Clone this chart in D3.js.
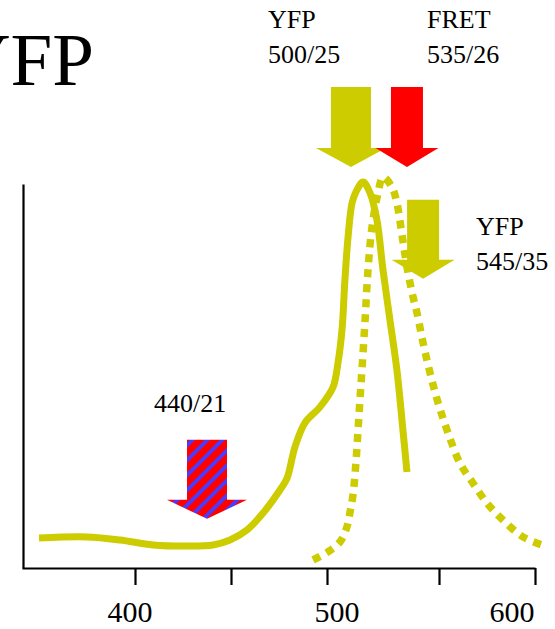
<!DOCTYPE html>
<html><head><meta charset="utf-8">
<script src="https://cdn.jsdelivr.net/npm/d3@7"></script>
<style>html,body{margin:0;padding:0;background:#fff;overflow:hidden}svg{display:block}</style>
</head><body>
<svg id="chart" width="555" height="629"></svg>
<script>
// ---- data ----
const excitationWl = [350.0,375.0,392.2,409.4,427.1,440.6,449.5,458.3,466.7,475.5,479.2,483.3,488.5,496.3,502.7,504.9,506.7,508.0,509.4,511.2,512.9,516.1,519.2,522.3,525.0,528.1,531.2,533.9,535.7];
const excitationI  = [0.078,0.081,0.073,0.060,0.057,0.060,0.073,0.099,0.143,0.203,0.234,0.315,0.378,0.419,0.471,0.534,0.620,0.750,0.862,0.951,0.979,1.005,0.977,0.906,0.776,0.646,0.516,0.359,0.250];
const emissionWl = [492.7,500.4,505.8,508.9,510.3,511.6,512.9,513.8,514.7,515.6,517.0,518.3,520.1,522.8,525.0,529.0,531.2,533.5,535.7,538.4,540.2,542.9,546.0,549.6,554.7,560.9,567.7,575.0,583.3,593.7,603.6];
const emissionI  = [0.021,0.042,0.068,0.107,0.146,0.190,0.273,0.354,0.438,0.516,0.646,0.776,0.888,0.977,1.018,0.992,0.951,0.867,0.784,0.706,0.664,0.586,0.508,0.430,0.352,0.273,0.221,0.169,0.125,0.081,0.060];
const tickValues = [400,450,500,550,600];
const tickLabels = ["400","","500","","600"];
const filterNames = [["440/21"],["YFP","500/25"],["FRET","535/26"],["YFP","545/35"]];
const filterPosWl = [437.5,510.7,535.7,542.9];
const filterTipI  = [0.128,1.044,1.044,0.753];
const titleText = "YFP";

// ---- styles / layout ----
const YELLOW = "#CCCC00", RED = "#FF0000", BLUE = "#4A3CFF";
const arrowStyle = [
  {fill:"url(#stripes)", shaft:40, head:80, headH:19, len:79, dx:-53, dy:-28},
  {fill:YELLOW, shaft:40, head:70, headH:19, len:80, dx:-83, dy:-59},
  {fill:RED,    shaft:32, head:63, headH:19, len:80, dx:20,  dy:-59},
  {fill:YELLOW, shaft:32, head:63, headH:19, len:79, dx:53,  dy:35}
];

const svg = d3.select("#chart");
const x = d3.scaleLinear().domain([341.15,400,450,500,550,600]).range([22,135,231,327,439,535]);
const y = d3.scaleLinear().domain([0,1]).range([568,184]);

// pattern
const defs = svg.append("defs");
const pat = defs.append("pattern").attr("id","stripes").attr("patternUnits","userSpaceOnUse")
  .attr("width",10.6).attr("height",10.6).attr("patternTransform","rotate(45)");
pat.append("rect").attr("width",10.6).attr("height",10.6).attr("fill",RED);
pat.append("rect").attr("width",3.8).attr("height",10.6).attr("fill",BLUE);

// title
svg.append("text").attr("x",94).attr("y",85).attr("text-anchor","end")
  .attr("font-family","'Liberation Serif','Times New Roman',serif").attr("font-size",75)
  .attr("fill","#000").text(titleText);

// axes
const xAxis = d3.axisBottom(x).tickValues(tickValues).tickSize(17).tickSizeOuter(0).tickFormat("");
const gx = svg.append("g").attr("transform",`translate(0,${y(0)})`).call(xAxis);
gx.select(".domain").attr("stroke","#000").attr("stroke-width",2.2);
gx.selectAll(".tick line").attr("stroke","#000").attr("stroke-width",2.2);
const yAxis = d3.axisLeft(y).tickValues([]).tickSizeOuter(0);
const gy = svg.append("g").attr("transform",`translate(${x(341.15)+1},0)`).call(yAxis);
gy.select(".domain").attr("stroke","#000").attr("stroke-width",2.2);

const labelDx = [-5,0,10,0,-23];
svg.append("g").selectAll("text").data(tickValues).join("text")
  .attr("x",(d,i)=>x(d)+labelDx[i]).attr("y",622).attr("text-anchor","middle")
  .attr("font-family","'Liberation Serif','Times New Roman',serif").attr("font-size",30)
  .attr("fill","#000").text((d,i)=>tickLabels[i]);

// curves
const line = d3.line().x(d=>x(d[0])).y(d=>y(d[1])).curve(d3.curveCatmullRom.alpha(0.5));
svg.append("path").datum(excitationWl.map((w,i)=>[w,excitationI[i]]))
  .attr("d",line).attr("fill","none").attr("stroke",YELLOW).attr("stroke-width",7);
svg.append("path").datum(emissionWl.map((w,i)=>[w,emissionI[i]]))
  .attr("d",line).attr("fill","none").attr("stroke",YELLOW).attr("stroke-width",7.5)
  .attr("stroke-dasharray","8,7");

// arrows (red FRET drawn after yellow 500/25, as in the reference)
[0,1,2,3].forEach(i=>{
  const s = arrowStyle[i], cx = x(filterPosWl[i]), tip = y(filterTipI[i]);
  const top = tip - s.len, hy = tip - s.headH;
  const pts = [[cx-s.shaft/2,top],[cx+s.shaft/2,top],[cx+s.shaft/2,hy],[cx+s.head/2,hy],
               [cx,tip],[cx-s.head/2,hy],[cx-s.shaft/2,hy]];
  svg.append("path").attr("d","M"+pts.map(p=>p.join(",")).join("L")+"Z").attr("fill",s.fill);
});
filterNames.forEach((lines,i)=>{
  const s = arrowStyle[i], cx = x(filterPosWl[i]), top = y(filterTipI[i]) - s.len;
  const t = svg.append("text").attr("font-family","'Liberation Serif','Times New Roman',serif")
    .attr("font-size",26).attr("fill","#000");
  lines.forEach((l,j)=>t.append("tspan").attr("x",cx+s.dx).attr("y",top+s.dy+j*35).text(l));
});
</script>
</body></html>
